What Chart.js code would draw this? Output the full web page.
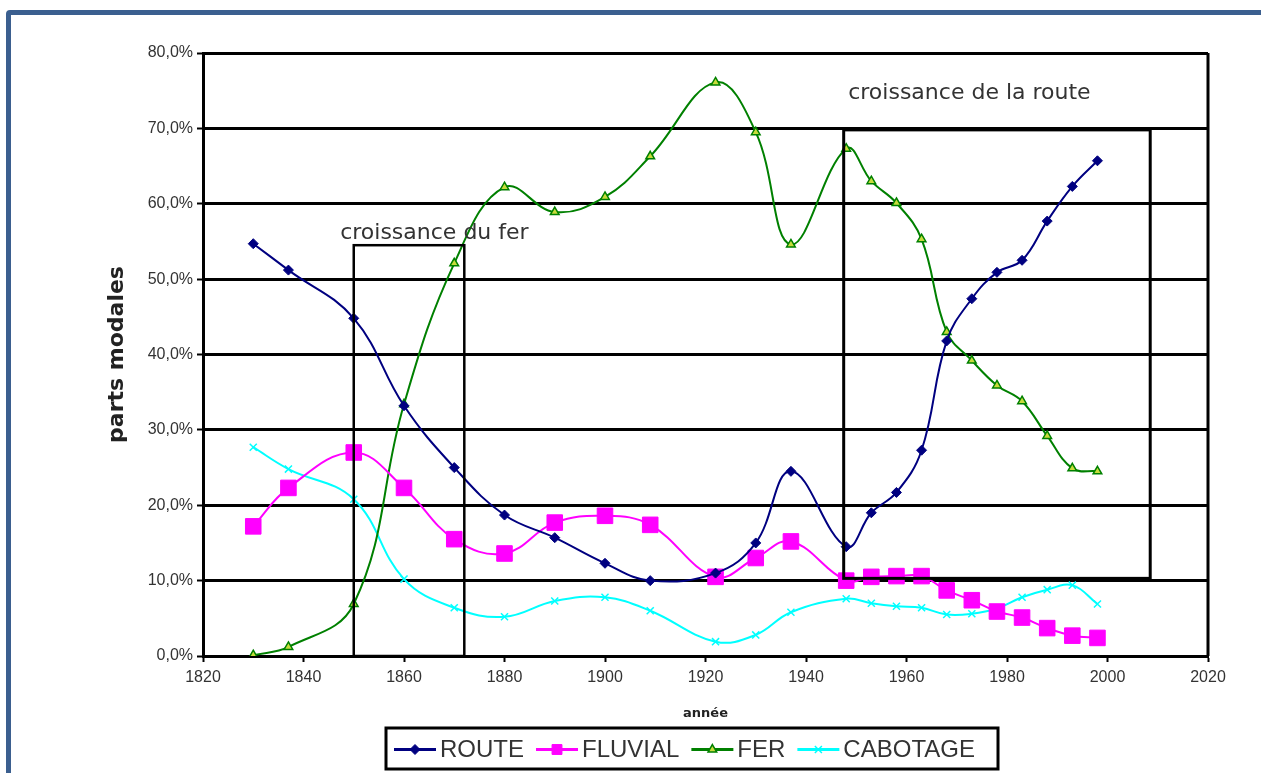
<!DOCTYPE html>
<html lang="fr">

<head>
  <meta charset="UTF-8">
  <title>Parts modales</title>
  <style>
    body { margin: 0; background: #fff; overflow: hidden; }
    #frame {
      position: absolute; left: 6px; top: 10px; width: 1320px; height: 900px;
      border: 5px solid #3b5f8f; border-radius: 4px;
    }
    #myChart { position: absolute; left: 0; top: 0; }
  </style>
</head>

<body>
  <div id="frame"></div>
  <canvas id="myChart" width="1261" height="773"></canvas>

  <script src="https://cdn.jsdelivr.net/npm/chart.js"></script>

  <script>
    // années des relevés
    const years = [1830, 1837, 1850, 1860, 1870, 1880, 1890, 1900, 1909, 1922, 1930, 1937,
      1948, 1953, 1958, 1963, 1968, 1973, 1978, 1983, 1988, 1993, 1998]

    // parts modales en %
    const route = [54.7, 51.2, 44.8, 33.2, 25.0, 18.7, 15.7, 12.3, 10.0, 11.0, 15.0, 24.5,
      14.5, 19.0, 21.7, 27.3, 41.8, 47.4, 50.9, 52.5, 57.7, 62.3, 65.7]
    const fluvial = [17.2, 22.3, 27.0, 22.3, 15.5, 13.6, 17.7, 18.6, 17.4, 10.5, 13.0, 15.2,
      10.0, 10.5, 10.6, 10.6, 8.7, 7.4, 5.9, 5.1, 3.7, 2.7, 2.4]
    const fer = [0.1, 1.2, 6.9, 33.4, 52.1, 62.2, 58.9, 60.9, 66.3, 76.1, 69.5, 54.6,
      67.3, 63.0, 60.1, 55.3, 43.0, 39.2, 35.9, 33.8, 29.2, 24.9, 24.5]
    const cabotage = [27.7, 24.8, 20.8, 10.2, 6.4, 5.2, 7.3, 7.8, 6.0, 1.9, 2.8, 5.8,
      7.6, 7.0, 6.6, 6.4, 5.5, 5.6, 6.3, 7.8, 8.8, 9.4, 6.9]

    const seriesNames = ['ROUTE', 'FLUVIAL', 'FER', 'CABOTAGE']

    // encadrés : [annee debut, annee fin, part basse, part haute]
    const boxes = [[1850, 1872, 0, 54.5], [1947.5, 2008.5, 10.3, 69.8]]
    const boxTexts = ['croissance du fer', 'croissance de la route']
    const boxTextPos = [[1847.3, 56.1], [1948.4, 74.7]]

    function pts(vals) {
      return vals.map((v, i) => ({ x: years[i], y: v }))
    }

    const styles = [
      { color: '#000080', pointStyle: 'rectRot', radius: 5, bg: '#000080', bw: 1 },
      { color: '#ff00ff', pointStyle: 'rect', radius: 11, bg: '#ff00ff', bw: 1 },
      { color: '#008000', pointStyle: 'triangle', radius: 5, bg: '#c8dc3c', bw: 1.5 },
      { color: '#00ffff', pointStyle: 'crossRot', radius: 5, bg: '#00ffff', bw: 1.5 }
    ]

    const allData = [route, fluvial, fer, cabotage]

    const datasets = allData.map((vals, i) => ({
      label: seriesNames[i],
      data: pts(vals),
      borderColor: styles[i].color,
      backgroundColor: styles[i].bg,
      pointBackgroundColor: styles[i].bg,
      pointBorderColor: styles[i].color,
      pointStyle: styles[i].pointStyle,
      pointRadius: styles[i].radius,
      pointBorderWidth: styles[i].bw,
      borderWidth: 2,
      tension: 0.4,
      fill: false
    }))

    // encadrés, textes, bord droit et légende maison
    const extras = {
      id: 'extras',
      afterDatasetsDraw(chart) {
        const ctx = chart.ctx
        const xs = chart.scales.x
        const ys = chart.scales.y
        const area = chart.chartArea
        ctx.save()
        ctx.strokeStyle = '#000'
        ctx.lineWidth = 3
        ctx.beginPath()
        ctx.moveTo(area.right, area.top)
        ctx.lineTo(area.right, area.bottom)
        ctx.stroke()

        boxes.forEach((b, i) => {
          const x1 = xs.getPixelForValue(b[0])
          const x2 = xs.getPixelForValue(b[1])
          const y1 = ys.getPixelForValue(b[3])
          const y2 = ys.getPixelForValue(b[2])
          ctx.lineWidth = i == 0 ? 2.5 : 3
          ctx.strokeRect(x1, y1, x2 - x1, y2 - y1)
        })

        ctx.fillStyle = '#333'
        ctx.font = '22px "DejaVu Sans"'
        ctx.textBaseline = 'middle'
        ctx.textAlign = 'left'
        boxTexts.forEach((t, i) => {
          ctx.fillText(t, xs.getPixelForValue(boxTextPos[i][0]), ys.getPixelForValue(boxTextPos[i][1]))
        })

        // légende
        const lx = 386, ly = 728, lw = 612, lh = 41
        ctx.lineWidth = 3
        ctx.strokeRect(lx, ly, lw, lh)
        ctx.font = '24px "Liberation Sans"'
        let cx = lx + 8
        const cy = ly + lh / 2 + 1
        seriesNames.forEach((name, i) => {
          const s = styles[i]
          ctx.strokeStyle = s.color
          ctx.lineWidth = 3
          ctx.beginPath()
          ctx.moveTo(cx, cy)
          ctx.lineTo(cx + 42, cy)
          ctx.stroke()
          ctx.fillStyle = s.bg
          ctx.lineWidth = s.bw
          Chart.helpers.drawPoint(ctx, {
            pointStyle: s.pointStyle, rotation: 0,
            radius: i == 1 ? 7 : 5, borderWidth: s.bw
          }, cx + 21, cy)
          ctx.fillStyle = '#333'
          ctx.fillText(name, cx + 46, cy + 1)
          cx += 46 + ctx.measureText(name).width + 12
        })
        ctx.restore()
      }
    }

    const ctx = document.getElementById('myChart')

    new Chart(ctx, {
      type: 'line',
      data: { datasets: datasets },
      plugins: [extras],
      options: {
        responsive: false,
        animation: false,
        layout: { padding: { left: 104, top: 53, right: 53, bottom: 47 } },
        plugins: {
          legend: { display: false },
          tooltip: { enabled: false }
        },
        scales: {
          x: {
            type: 'linear',
            min: 1820,
            max: 2020,
            afterFit(scale) { scale.height = 70 },
            ticks: {
              stepSize: 20,
              color: '#333',
              padding: 6,
              maxRotation: 0,
              font: { family: 'Liberation Sans', size: 16 },
              callback: v => String(v)
            },
            grid: {
              drawOnChartArea: false,
              drawTicks: true,
              tickLength: 6,
              tickWidth: 2,
              tickColor: '#000'
            },
            border: { display: true, color: '#000', width: 3 },
            title: {
              display: true,
              text: 'année',
              color: '#222',
              font: { family: 'DejaVu Sans', size: 13, weight: 'bold' },
              padding: { top: 0, bottom: 5 }
            }
          },
          y: {
            min: 0,
            max: 80,
            afterFit(scale) { scale.width = 99 },
            ticks: {
              stepSize: 10,
              color: '#333',
              padding: 4,
              font: { family: 'Liberation Sans', size: 16 },
              callback: v => v.toFixed(1).replace('.', ',') + '%'
            },
            grid: {
              color: '#000',
              lineWidth: 3,
              tickLength: 6,
              tickWidth: 2
            },
            border: { display: true, color: '#000', width: 3 },
            title: {
              display: true,
              text: 'parts modales',
              color: '#222',
              font: { family: 'DejaVu Sans', size: 22, weight: 'bold' },
              padding: { top: 0, bottom: 0 }
            }
          }
        }
      }
    })
  </script>
</body>

</html>
